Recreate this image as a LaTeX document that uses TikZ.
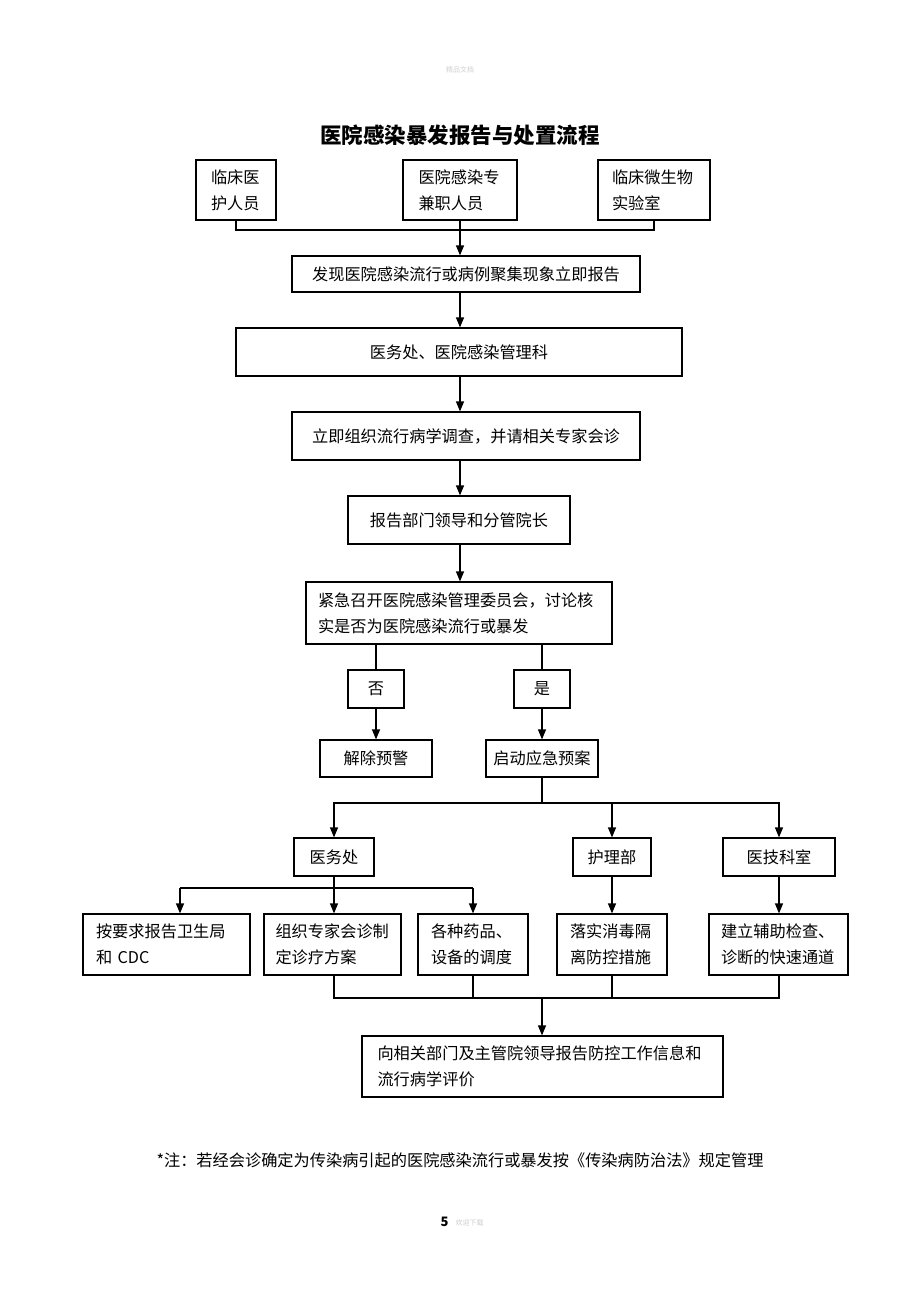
\documentclass[tikz,border=0pt]{standalone}
\usepackage{fontspec}
\setmainfont{Noto Sans CJK SC}
\usetikzlibrary{arrows.meta}
\tikzset{
  box/.style={draw, line width=1.2pt, inner sep=0pt, font=\fontsize{16.2}{26}\selectfont},
  arr/.style={-{Triangle[length=10pt,width=8pt]}, line width=1.2pt},
  ln/.style={line width=1.2pt},
}
\begin{document}
\begin{tikzpicture}[x=1pt,y=-1pt]
\fill[white] (0,0) rectangle (920,1302);
\useasboundingbox (0,0) rectangle (920,1302);
% faint header / footer
\node[text=black!18, font=\fontsize{7}{8}\selectfont] (hdr) at (460,70) {精品文档};
\node[font=\fontsize{13}{14}\selectfont\bfseries, anchor=east] (pg) at (452,1222) {5};
\node[text=black!20, font=\fontsize{7}{8}\selectfont, anchor=west] (pgt) at (452,1223) {欢迎下载};
% title
\node[font=\fontsize{21.5}{24}\selectfont\bfseries] (title) at (460,135) {医院感染暴发报告与处置流程};
% top sources
\node[box, minimum width=80, minimum height=60, align=left, text width=50] (A) at (236,190) {临床医\\护人员};
\node[box, minimum width=114, minimum height=60, align=left, text width=83] (B) at (460,190) {医院感染专\\兼职人员};
\node[box, minimum width=112, minimum height=60, align=left, text width=84] (C) at (654,190) {临床微生物\\实验室};
% main chain
\node[box, minimum width=348, minimum height=36] (D) at (466,274) {发现医院感染流行或病例聚集现象立即报告};
\node[box, minimum width=446, minimum height=48] (E) at (459,352) {医务处、医院感染管理科};
\node[box, minimum width=348, minimum height=48] (F) at (466,436) {立即组织流行病学调查，并请相关专家会诊};
\node[box, minimum width=222, minimum height=48] (G) at (459,520) {报告部门领导和分管院长};
\node[box, minimum width=306, minimum height=62, align=left, text width=282] (H) at (459,613) {紧急召开医院感染管理委员会，讨论核\\实是否为医院感染流行或暴发};
\node[box, minimum width=56, minimum height=38] (no) at (376,689) {否};
\node[box, minimum width=56, minimum height=38] (yes) at (542,689) {是};
\node[box, minimum width=112, minimum height=37] (jc) at (376,758.5) {解除预警};
\node[box, minimum width=112, minimum height=37] (qd) at (542,758.5) {启动应急预案};
% departments
\node[box, minimum width=80, minimum height=38] (yw) at (334,857) {医务处};
\node[box, minimum width=78, minimum height=38] (hl) at (612,857) {护理部};
\node[box, minimum width=112, minimum height=38] (yj) at (779,857) {医技科室};
% bottom row
\node[box, minimum width=167, minimum height=61, align=left, text width=141] (b1) at (166.5,944.5) {按要求报告卫生局\\和 CDC};
\node[box, minimum width=137, minimum height=61, align=left, text width=114] (b2) at (332.5,944.5) {组织专家会诊制\\定诊疗方案};
\node[box, minimum width=110, minimum height=61, align=left, text width=84] (b3) at (473,944.5) {各种药品、\\设备的调度};
\node[box, minimum width=110, minimum height=61, align=left, text width=84] (b4) at (612,944.5) {落实消毒隔\\离防控措施};
\node[box, minimum width=139, minimum height=61, align=left, text width=115] (b5) at (778.5,944.5) {建立辅助检查、\\诊断的快速通道};
\node[box, minimum width=361, minimum height=61, align=left, text width=330] (fin) at (542.5,1066.5) {向相关部门及主管院领导报告防控工作信息和\\流行病学评价};
% note
\node[font=\fontsize{16.2}{18}\selectfont] (note) at (460,1160) {*注：若经会诊确定为传染病引起的医院感染流行或暴发按《传染病防治法》规定管理};
% coordinates
\coordinate (ax) at (460,0);
\coordinate (j1) at (460,230);
\coordinate (j2) at (542,803);
\coordinate (k1) at (180,888);
\coordinate (k3) at (473,888);
\coordinate (j4) at (542,998);
% connectors
\draw[ln] (A.south) |- (j1) -| (C.south);
\draw[arr] (B.south -| ax) -- (D.north -| ax);
\draw[arr] (D.south -| ax) -- (E.north -| ax);
\draw[arr] (E.south -| ax) -- (F.north -| ax);
\draw[arr] (F.south -| ax) -- (G.north -| ax);
\draw[arr] (G.south -| ax) -- (H.north -| ax);
\draw[ln] (H.south -| no.north) -- (no.north);
\draw[ln] (H.south -| yes.north) -- (yes.north);
\draw[arr] (no.south) -- (jc.north);
\draw[arr] (yes.south) -- (qd.north -| yes.south);
\draw[ln] (qd.south -| j2) -- (j2);
\draw[arr] (j2) -| (yw.north);
\draw[arr] (j2) -| (yj.north);
\draw[arr] (hl.north |- j2) -- (hl.north);
\draw[ln] (yw.south) -- (yw.south |- k1);
\draw[ln] (k1) -- (k3);
\draw[arr] (k1) -- (k1 |- b1.north);
\draw[arr] (yw.south |- k1) -- (yw.south |- b2.north);
\draw[arr] (k3) -- (k3 |- b3.north);
\draw[arr] (hl.south) -- (hl.south |- b4.north);
\draw[arr] (yj.south) -- (yj.south |- b5.north);
\draw[ln] (yw.south |- b2.south) |- (j4) -| (yj.south |- b5.south);
\draw[ln] (b3.south) -- (b3.south |- j4);
\draw[ln] (b4.south) -- (b4.south |- j4);
\draw[arr] (j4) -- (j4 |- fin.north);
\end{tikzpicture}
\end{document}
